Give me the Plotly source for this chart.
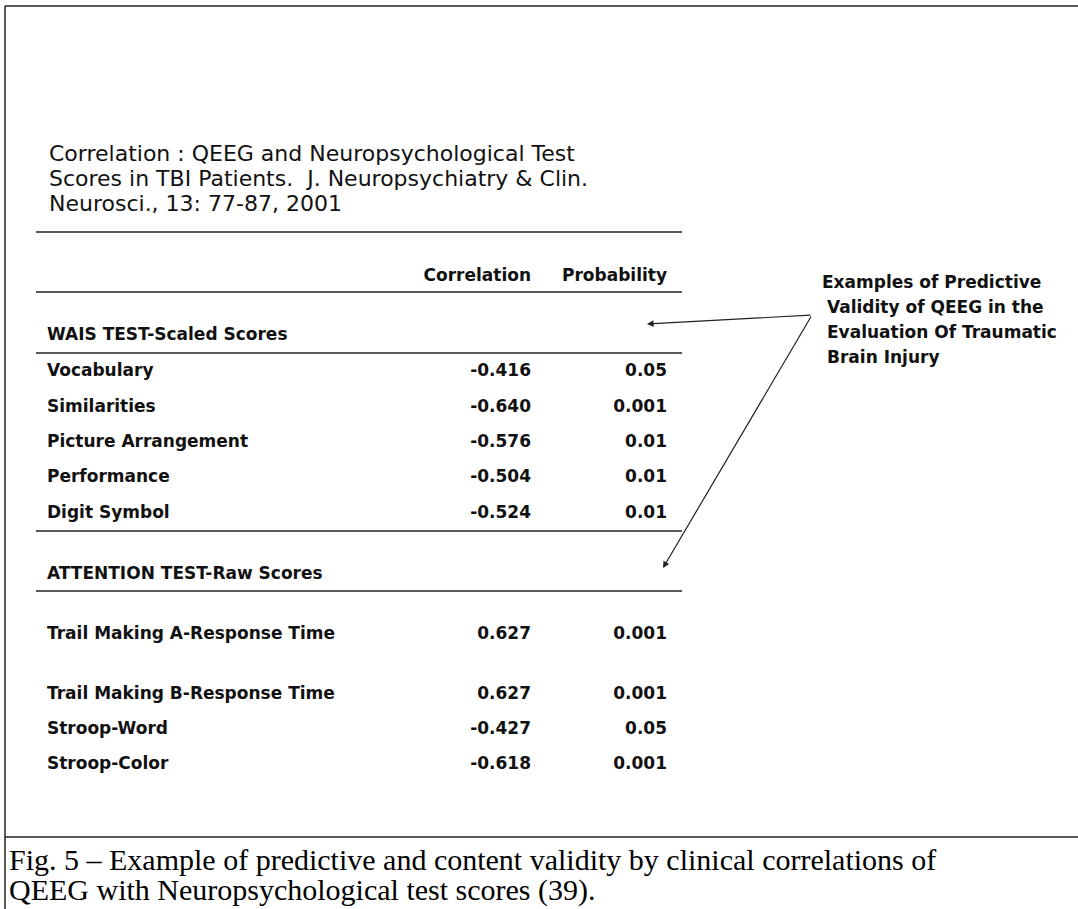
import plotly.graph_objects as go

# ---------------- data ----------------
title_lines = [
    "Correlation : QEEG and Neuropsychological Test",
    "Scores in TBI Patients.  J. Neuropsychiatry & Clin.",
    "Neurosci., 13: 77-87, 2001",
]
column_headers = ["Correlation", "Probability"]

wais_header = "WAIS TEST-Scaled Scores"
wais_tests = ["Vocabulary", "Similarities", "Picture Arrangement", "Performance", "Digit Symbol"]
wais_corr = [-0.416, -0.640, -0.576, -0.504, -0.524]
wais_prob = ["0.05", "0.001", "0.01", "0.01", "0.01"]

attention_header = "ATTENTION TEST-Raw Scores"
attention_tests = ["Trail Making A-Response Time", "Trail Making B-Response Time",
                   "Stroop-Word", "Stroop-Color"]
attention_corr = [0.627, 0.627, -0.427, -0.618]
attention_prob = ["0.001", "0.001", "0.05", "0.001"]

note_lines = ["Examples of Predictive", "Validity of QEEG in the",
              "Evaluation Of Traumatic", "Brain Injury"]
caption_lines = [
    "Fig. 5 \u2013 Example of predictive and content validity by clinical correlations of",
    "QEEG with Neuropsychological test scores (39).",
]

# ---------------- layout constants (pixel coordinates) ----------------
W, H = 1078, 909
LABEL_X, CORR_X, PROB_X = 47, 531, 667
HEADER_Y = 277
WAIS_HEADER_Y = 336
WAIS_ROWS_Y = [372, 408, 443, 478, 514]
ATT_HEADER_Y = 575
ATT_ROWS_Y = [635, 695, 730, 765]
TITLE_Y = [153, 178, 203]
NOTE_X = [820, 825, 825, 825]
NOTE_Y = [282, 307, 332, 357]
CAPTION_Y = [859, 890]

INK = "#111111"
LINE = "#222222"
table_font = dict(family="DejaVu Sans, Arial", size=17, color=INK, weight="bold")

fig = go.Figure()

def text_trace(xs, ys, texts, pos):
    fig.add_trace(go.Scatter(x=xs, y=ys, text=texts, mode="text",
                             textposition=pos, textfont=table_font,
                             hoverinfo="skip", showlegend=False))

# column headers
text_trace([CORR_X, PROB_X], [HEADER_Y, HEADER_Y], column_headers, "middle left")
# section headers
text_trace([LABEL_X, LABEL_X], [WAIS_HEADER_Y, ATT_HEADER_Y],
           [wais_header, attention_header], "middle right")
# WAIS rows
text_trace([LABEL_X] * len(wais_tests), WAIS_ROWS_Y, wais_tests, "middle right")
text_trace([CORR_X] * len(wais_corr), WAIS_ROWS_Y, [f"{v:.3f}" for v in wais_corr], "middle left")
text_trace([PROB_X] * len(wais_prob), WAIS_ROWS_Y, wais_prob, "middle left")
# Attention rows
text_trace([LABEL_X] * len(attention_tests), ATT_ROWS_Y, attention_tests, "middle right")
text_trace([CORR_X] * len(attention_corr), ATT_ROWS_Y, [f"{v:.3f}" for v in attention_corr], "middle left")
text_trace([PROB_X] * len(attention_prob), ATT_ROWS_Y, attention_prob, "middle left")

# rules
shapes = []
def hline(y, x0, x1, w=1.5):
    shapes.append(dict(type="line", xref="x", yref="y", x0=x0, x1=x1, y0=y, y1=y,
                       line=dict(color=LINE, width=w)))
for y in [232, 292, 353, 531, 591]:
    hline(y, 36, 682)
# frame
hline(6, 5, W, 1.5)
hline(837, 5, W, 1.5)
shapes.append(dict(type="line", xref="x", yref="y", x0=5, x1=5, y0=6, y1=H,
                   line=dict(color=LINE, width=1.5)))

annotations = []
for t, y in zip(title_lines, TITLE_Y):
    annotations.append(dict(x=LABEL_X, y=y, xref="x", yref="y", text=t, showarrow=False,
                            xanchor="left", yanchor="middle",
                            font=dict(family="DejaVu Sans, Arial", size=22, color=INK)))
for t, x, y in zip(note_lines, NOTE_X, NOTE_Y):
    annotations.append(dict(x=x, y=y, xref="x", yref="y", text=t, showarrow=False,
                            xanchor="left", yanchor="middle",
                            font=dict(family="DejaVu Sans, Arial", size=17, color=INK,
                                      weight="bold")))
for t, y in zip(caption_lines, CAPTION_Y):
    annotations.append(dict(x=7, y=y, xref="x", yref="y", text=t, showarrow=False,
                            xanchor="left", yanchor="middle",
                            font=dict(family="Liberation Serif, Times New Roman", size=30,
                                      color="#000000")))
# arrows from the note toward the two section headers
apex = (812, 315)
for tip in [(647, 324), (663, 568)]:
    annotations.append(dict(x=tip[0], y=tip[1], ax=apex[0], ay=apex[1],
                            xref="x", yref="y", axref="x", ayref="y",
                            text="", showarrow=True, arrowhead=2, arrowsize=1.1,
                            arrowwidth=1.2, arrowcolor=LINE, standoff=0))

fig.update_layout(
    width=W, height=H,
    margin=dict(l=0, r=0, t=0, b=0),
    paper_bgcolor="white", plot_bgcolor="white",
    xaxis=dict(range=[0, W], visible=False, fixedrange=True),
    yaxis=dict(range=[H, 0], visible=False, fixedrange=True),
    shapes=shapes, annotations=annotations,
    showlegend=False,
)

fig.write_html("out.html", config={"displayModeBar": False},
               post_script="document.body.style.margin='0';document.body.style.overflow='hidden';")
